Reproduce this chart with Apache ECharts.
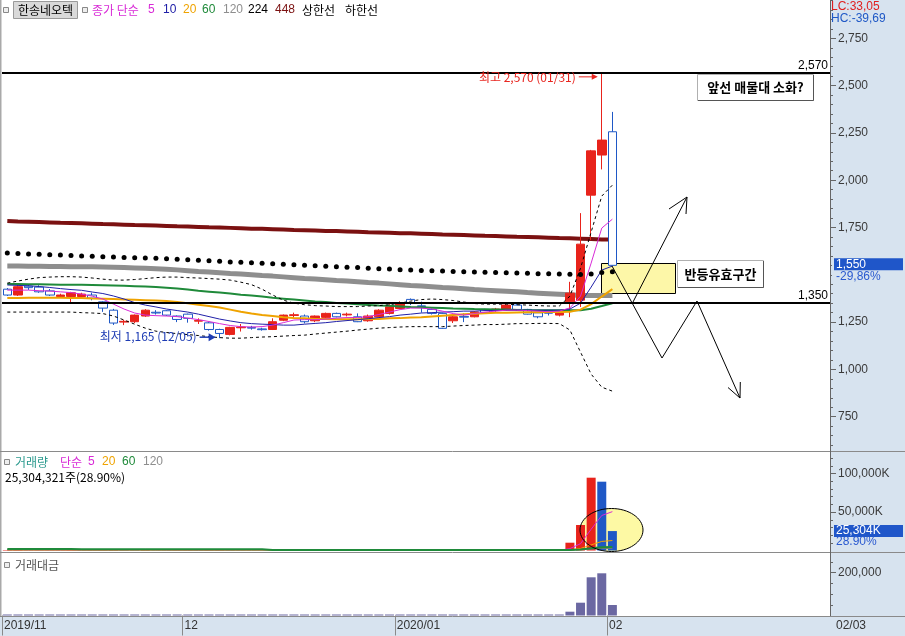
<!DOCTYPE html>
<html>
<head>
<meta charset="utf-8">
<script src="https://cdn.jsdelivr.net/npm/echarts@6.0.0/dist/echarts.min.js"></script>
<style>
html,body{margin:0;padding:0;background:#fff;}
#chart{width:905px;height:636px;background:
 linear-gradient(#d7e3ef,#d7e3ef) right top/75px 100% no-repeat,
 linear-gradient(#d7e3ef,#d7e3ef) left bottom/100% 20px no-repeat,#fff;}
</style>
</head>
<body>
<div id="chart"></div>
<script>
// ---------------- DATA ----------------
const dates = ['2019/11/07','2019/11/08','2019/11/11','2019/11/12','2019/11/13','2019/11/14','2019/11/15','2019/11/18','2019/11/19','2019/11/20','2019/11/21','2019/11/22','2019/11/25','2019/11/26','2019/11/27','2019/11/28','2019/11/29',
'2019/12/02','2019/12/03','2019/12/04','2019/12/05','2019/12/06','2019/12/09','2019/12/10','2019/12/11','2019/12/12','2019/12/13','2019/12/16','2019/12/17','2019/12/18','2019/12/19','2019/12/20','2019/12/23','2019/12/24','2019/12/26','2019/12/27','2019/12/30',
'2020/01/02','2020/01/03','2020/01/06','2020/01/07','2020/01/08','2020/01/09','2020/01/10','2020/01/13','2020/01/14','2020/01/15','2020/01/16','2020/01/17','2020/01/20','2020/01/21','2020/01/22','2020/01/23','2020/01/28','2020/01/29','2020/01/30','2020/01/31',
'2020/02/03'];
const futureDates = ['2020/02/04','2020/02/05','2020/02/06','2020/02/07','2020/02/10','2020/02/11','2020/02/12','2020/02/13','2020/02/14','2020/02/17','2020/02/18','2020/02/19','2020/02/20','2020/02/21','2020/02/24','2020/02/25','2020/02/26','2020/02/27','2020/02/28','2020/03/02'];

const opens  = [1424,1393,1440,1435,1415,1385,1385,1385,1393,1357, 1313,1250,1252,1282,1302,1310,1282,1292,1255,1246, 1211,1185,1220,1222,1214,1211,1260,1285,1282,1257, 1275,1296,1288,1278,1257,1278,1296,1322,1370,1336, 1317,1296,1257,1280,1278,1317,1315,1313,1340,1317, 1299,1300,1287,1357,1366,1921,2133,2256];
const closes = [1393,1437,1432,1410,1393,1393,1405,1398,1377,1324, 1245,1254,1287,1313,1298,1287,1264,1270,1259,1211, 1190,1222,1224,1218,1210,1252,1287,1289,1252,1282, 1296,1278,1292,1252,1282,1313,1331,1349,1349,1332, 1296,1217,1278,1276,1304,1300,1319,1340,1317,1292, 1278,1297,1299,1403,1662,2155,2212,1550];
const lows   = [1388,1388,1420,1405,1388,1380,1350,1375,1365,1304, 1235,1234,1245,1278,1290,1282,1250,1247,1240,1205, 1165,1180,1200,1210,1205,1208,1255,1275,1243,1250, 1270,1275,1280,1250,1252,1275,1290,1318,1340,1300, 1290,1215,1245,1250,1275,1296,1305,1310,1315,1290, 1270,1285,1280,1276,1330,1683,2057,1550];
const highs  = [1430,1451,1450,1445,1425,1400,1410,1405,1405,1360, 1320,1262,1290,1318,1313,1313,1285,1295,1270,1250, 1215,1225,1240,1230,1220,1270,1290,1300,1290,1285, 1300,1300,1300,1296,1290,1318,1345,1360,1375,1358, 1322,1300,1285,1296,1308,1320,1325,1345,1345,1320, 1302,1305,1305,1463,1826,2160,2570,2361];

const ma5   = [1419,1419,1419,1416,1414,1410,1406,1398,1387,1372, 1345,1319,1298,1287,1284,1282,1279,1271,1263,1253, 1242,1232,1226,1224,1226,1234,1247,1261,1263,1263, 1266,1271,1274,1274,1279,1290,1303,1316,1324,1324, 1319,1308,1295,1287,1295,1303,1308,1313,1313,1311, 1308,1305,1308,1325,1387,1562,1747,1794];
const ma10  = [1446,1444,1442,1438,1433,1427,1422,1418,1409,1401, 1388,1372,1353,1340,1330,1319,1311,1303,1292,1279, 1266,1256,1247,1242,1239,1237,1234,1234,1239,1243, 1247,1253,1258,1263,1268,1274,1279,1287,1292,1298, 1300,1303,1305,1308,1308,1311,1311,1313,1313,1313, 1313,1313,1313,1319,1350,1435,1525,1546];
const ma20  = [1377,1378,1379,1379,1379,1379,1378,1377,1375,1374, 1372,1370,1368,1366,1364,1361,1356,1350,1342,1335, 1327,1316,1305,1295,1287,1282,1276,1272,1270,1267, 1266,1265,1265,1265,1266,1267,1270,1271,1274,1276, 1280,1284,1288,1291,1294,1297,1299,1300,1301,1302, 1302,1303,1303,1305,1316,1345,1385,1424];
const ma60  = [1451,1451,1450,1450,1449,1448,1448,1447,1446,1445, 1444,1442,1440,1438,1435,1431,1427,1422,1416,1411, 1406,1401,1395,1390,1385,1379,1374,1369,1364,1359, 1356,1351,1348,1344,1341,1338,1336,1333,1330,1328, 1326,1324,1322,1321,1319,1318,1317,1316,1314,1313, 1313,1312,1312,1312,1313,1321,1335,1350];
const ma120 = [1546,1546,1545,1545,1544,1544,1543,1543,1542,1541, 1540,1538,1536,1534,1532,1529,1526,1522,1518,1515, 1511,1507,1504,1500,1496,1493,1489,1485,1481,1478, 1474,1470,1467,1463,1459,1456,1452,1448,1444,1441, 1437,1433,1430,1426,1422,1419,1416,1413,1410,1406, 1403,1400,1397,1394,1391,1390,1390,1391];
const ma224 = [1615,1613,1610,1608,1606,1604,1602,1600,1598,1596, 1594,1592,1590,1589,1587,1585,1582,1579,1577,1574, 1571,1568,1566,1564,1561,1558,1556,1553,1551,1548, 1545,1543,1540,1538,1535,1532,1530,1527,1525,1523, 1521,1520,1518,1516,1515,1513,1512,1511,1509,1508, 1506,1505,1504,1503,1502,1504,1512,1516];
const ma448 = [1784,1782,1781,1779,1777,1775,1774,1772,1770,1768, 1767,1765,1763,1762,1760,1758,1756,1755,1753,1751, 1750,1748,1746,1744,1743,1741,1739,1737,1736,1734, 1732,1731,1729,1727,1725,1724,1722,1720,1719,1717, 1715,1713,1712,1710,1708,1706,1705,1703,1701,1700, 1698,1696,1694,1693,1691,1689,1687,1686];
const upperBand = [1456,1467,1477,1485,1488,1490,1490,1488,1483,1477, 1472,1472,1475,1480,1485,1488,1488,1485,1483,1480, 1477,1472,1461,1448,1424,1393,1366,1350,1342,1337, 1335,1332,1332,1332,1335,1337,1342,1350,1361,1369, 1372,1369,1364,1356,1348,1345,1345,1345,1342,1340, 1337,1335,1335,1387,1535,1726,1916,1974];
const lowerBand = [1303,1303,1303,1303,1303,1303,1303,1300,1298,1295, 1282,1261,1239,1218,1202,1195,1189,1184,1179,1173, 1168,1165,1165,1168,1171,1173,1176,1179,1181,1187, 1192,1197,1202,1208,1213,1218,1221,1224,1226,1226, 1226,1226,1229,1232,1234,1237,1237,1239,1242,1242, 1243,1243,1242,1208,1091,975,906,885];

// volume in thousand shares
const volumes = [620,850,410,380,350,300,520,280,300,480, 1150,700,560,640,330,290,310,420,300,520, 610,540,380,260,240,580,520,360,420,330, 380,290,250,300,260,480,620,540,500,410, 330,760,450,300,380,290,260,420,310,280, 260,250,310,10150,33200,94800,89600,25304];
const volMa5   = [560,590,620,560,520,430,420,360,350,380, 550,580,680,710,680,490,410,390,330,370, 430,480,510,470,460,450,410,410,430,400, 400,360,330,310,300,310,370,440,480,510, 460,550,510,470,440,360,330,350,330,310, 300,300,300,2460,8900,27700,45600,50600];
const volMa20  = [520,530,530,520,520,510,510,500,500,500, 530,540,550,560,550,540,530,530,520,520, 510,500,490,480,470,470,470,460,460,450, 440,430,420,410,410,410,410,420,420,420, 410,430,430,420,420,410,410,400,400,390, 390,390,380,990,2630,7330,11790,13000];
const volMa60  = [1900,1890,1870,1860,1840,1820,1800,1790,1770,1750, 1740,1720,1700,1680,1660,1650,1630,1610,1590,1570, 1560,1540,1520,1510,1500,720,710,700,690,680, 680,670,660,650,640,640,630,620,610,600, 600,600,590,580,580,570,560,560,550,550, 540,530,520,690,1240,2820,4300,4700];
const volMa120 = [950,945,940,935,930,925,920,915,910,905, 900,900,895,890,885,880,875,870,865,860, 855,850,845,840,835,830,825,820,815,810, 805,800,795,790,785,780,775,770,765,760, 755,750,745,740,735,730,725,720,715,710, 705,700,695,780,1050,1830,2570,2770];
// trading value in million won
const amounts = [880,1220,590,540,490,420,730,390,420,650, 1470,880,710,830,430,370,390,530,380,640, 730,670,470,320,290,720,670,460,530,420, 490,370,320,380,330,630,820,720,680,550, 430,940,570,380,490,380,340,560,400,360, 330,320,400,17800,59800,178500,197200,49000];

const priceTicks  = [750,1000,1250,1500,1750,2000,2250,2500,2750];
const volTicks    = [50000,100000];
const amountTicks = [200000];
const levelLines  = [2570,1350];
const lastClose = 1550, lastChange = '-29,86%';
const lastVol = 25304, lastVolPct = '28.90%';

// ---------------- CHART ----------------
const NUM = "'Liberation Sans', Arial, sans-serif";
const KR = "'Noto Sans CJK KR', 'Noto Sans', sans-serif";
const RED = '#e8231b', BLUE = '#1f58c6', AXBG = '#d7e3ef';
const C5 = '#d82ad6', C10 = '#2020a8', C20 = '#efa300', C60 = '#1f8a3a', C120 = '#8e8e8e', C448 = '#7b1111';
const fmt = v => Math.round(v).toLocaleString('en-US');

const cats = dates.concat(futureDates);
const tickCats = cats.concat(['end']);
const candleData = dates.map((d, i) => [opens[i], closes[i], lows[i], highs[i]]);

function monthStart(i) {
  if (i >= dates.length) return false;
  return i === 0 || dates[i].slice(5, 7) !== dates[i - 1].slice(5, 7);
}
function monthLabel(v, i) {
  if (!monthStart(i)) return '';
  if (i === 0 || dates[i].slice(0, 4) !== dates[i - 1].slice(0, 4)) return dates[i].slice(0, 7);
  return dates[i].slice(5, 7);
}
function minorList(a, b, s) { const r = []; for (let v = a; v <= b; v += s) r.push(v); return r; }

const PMIN = 568.7, PMAX = 2952.4;
const VMAX = 128255, AMAX = 287383;

function lineS(data, color, width, z, xi, yi, extra) {
  return Object.assign({ type: 'line', data: data, xAxisIndex: xi || 0, yAxisIndex: yi || 0,
    symbol: 'none', silent: true, z: z, lineStyle: { color: color, width: width } }, extra || {});
}
function yAx(grid, min, max, ticks, len, labels, fmtFn) {
  return { type: 'value', gridIndex: grid, position: 'right', min: min, max: max,
    axisLine: { show: false }, splitLine: { show: false },
    axisTick: { show: true, customValues: ticks, length: len, lineStyle: { color: '#666' } },
    axisLabel: labels ? { show: true, customValues: ticks, formatter: fmtFn, margin: 8, color: '#3a3a3a', fontSize: 12, fontFamily: NUM } : { show: false } };
}

const option = {
  animation: false,
  grid: [
    { left: 2, width: 828, top: 0, height: 451 },
    { left: 2, width: 828, top: 452, height: 98.5 },
    { left: 2, width: 828, top: 554, height: 61.5 }
  ],
  xAxis: [
    { type: 'category', gridIndex: 0, data: cats, boundaryGap: true, show: false },
    { type: 'category', gridIndex: 1, data: cats, boundaryGap: true, show: false },
    { type: 'category', gridIndex: 2, data: cats, boundaryGap: true, show: false },
    { type: 'category', gridIndex: 2, data: tickCats, boundaryGap: false, position: 'bottom',
      axisLine: { show: false }, splitLine: { show: false },
      axisTick: { show: true, interval: (i) => monthStart(i), length: 20, lineStyle: { color: '#8a8a8a' } },
      axisLabel: { show: true, interval: (i) => monthStart(i), formatter: monthLabel, align: 'left', padding: [0, 0, 0, 2], margin: 4, color: '#333', fontSize: 12, fontFamily: NUM } }
  ],
  yAxis: [
    yAx(0, PMIN, PMAX, priceTicks, 6, true, v => fmt(v)),
    yAx(0, PMIN, PMAX, minorList(600, 2950, 50), 3, false),
    yAx(1, 0, VMAX, volTicks, 6, true, v => fmt(v) + 'K'),
    yAx(1, 0, VMAX, minorList(10000, 120000, 10000), 3, false),
    yAx(2, 0, AMAX, amountTicks, 6, true, v => fmt(v)),
    yAx(2, 0, AMAX, minorList(50000, 250000, 50000), 3, false)
  ],
  series: [
    { type: 'candlestick', data: candleData, xAxisIndex: 0, yAxisIndex: 0, barWidth: 9, z: 3, silent: true,
      itemStyle: { color: RED, color0: '#ffffff', borderColor: RED, borderColor0: BLUE, borderWidth: 1 },
      markLine: { silent: true, symbol: ['none', 'none'], animation: false,
        lineStyle: { color: '#000', width: 2, type: 'solid' },
        label: { show: true, position: 'insideEndTop', formatter: p => fmt(p.value), color: '#000', fontSize: 12, fontFamily: NUM, distance: [2, 1] },
        emphasis: { disabled: true },
        data: levelLines.map(v => ({ yAxis: v })) } },
    lineS(ma448, C448, 4, 2),
    lineS(ma224, '#000', 0, 4, 0, 0, { symbol: 'circle', symbolSize: 5, showSymbol: true, showAllSymbol: true,
      lineStyle: { opacity: 0, width: 0 }, itemStyle: { color: '#000', borderWidth: 0 } }),
    lineS(ma120, C120, 5, 2),
    lineS(ma60, C60, 2, 4),
    lineS(upperBand, '#000', 1, 4, 0, 0, { lineStyle: { color: '#000', width: 1, type: [3, 3] } }),
    lineS(lowerBand, '#000', 1, 4, 0, 0, { lineStyle: { color: '#000', width: 1, type: [3, 3] } }),
    lineS(ma20, C20, 2, 4),
    lineS(ma10, C10, 1, 4),
    lineS(ma5, C5, 1, 4),
    { type: 'bar', data: volumes, xAxisIndex: 1, yAxisIndex: 2, barWidth: 9, z: 3, silent: true,
      itemStyle: { color: p => (p.dataIndex === 0 || volumes[p.dataIndex] > volumes[p.dataIndex - 1]) ? RED : BLUE } },
    lineS(volMa5, C5, 1, 4, 1, 2),
    lineS(volMa20, C20, 1, 4, 1, 2),
    lineS(volMa120, '#7a7a7a', 1, 5, 1, 2),
    lineS(volMa60, C60, 2, 6, 1, 2),
    { type: 'bar', data: amounts, xAxisIndex: 2, yAxisIndex: 4, barWidth: 9, barMinHeight: 1, z: 3, silent: true,
      itemStyle: { color: '#6b68a2' } }
  ]
};

const chart = echarts.init(document.getElementById('chart'));
chart.setOption(option);

// ---------------- OVERLAYS ----------------
function T(text, x, y, fill, font, align, z) {
  return { type: 'text', x: x, y: y, z: z || 60, silent: true,
    style: { text: text, fill: fill, font: font, align: align || 'left', textAlign: align || 'left', verticalAlign: 'middle', textVerticalAlign: 'middle' } };
}
function L(x1, y1, x2, y2, stroke, w, z) {
  return { type: 'line', z: z || 60, silent: true, shape: { x1: x1, y1: y1, x2: x2, y2: y2 }, style: { stroke: stroke, lineWidth: w || 1 } };
}
function R(x, y, w, h, fill, stroke, z) {
  return { type: 'rect', z: z || 60, silent: true, shape: { x: x, y: y, width: w, height: h }, style: { fill: fill, stroke: stroke || null, lineWidth: 1 } };
}
function PL(points, stroke, z) {
  return { type: 'polyline', z: z || 60, silent: true, shape: { points: points }, style: { stroke: stroke, fill: null, lineWidth: 1 } };
}
function PG(points, fill, z) {
  return { type: 'polygon', z: z || 60, silent: true, shape: { points: points }, style: { fill: fill } };
}
const F12 = '12px ' + KR, N12 = '12px ' + NUM;
const g = [];

// frame lines
g.push(R(0, 0, 1.5, 616, '#a9a9a9', null, 50));
g.push(L(0, 451.5, 905, 451.5, '#8a8a8a', 1, 50));
g.push(L(0, 552.5, 905, 552.5, '#8a8a8a', 1, 50));
g.push(L(0, 616.5, 905, 616.5, '#8a8a8a', 1, 50));
g.push(L(830.5, 0, 830.5, 616, '#666', 1, 50));

// top legend
g.push(R(3.5, 7.5, 5, 5, '#eee', '#888'));
g.push(R(13.5, 1.5, 64, 17, '#d9d9d9', '#9a9a9a'));
g.push(T('한송네오텍', 45.5, 10, '#000', F12, 'center'));
g.push(R(82.5, 7.5, 5, 5, '#eee', '#888'));
[['종가 단순', C5, 92, F12], ['5', C5, 148, N12], ['10', C10, 163, N12], ['20', C20, 183, N12], ['60', C60, 202, N12],
 ['120', C120, 223, N12], ['224', '#000', 248, N12], ['448', C448, 275, N12], ['상한선', '#000', 302, F12], ['하한선', '#000', 345, F12]]
 .forEach(a => g.push(T(a[0], a[2], 10, a[1], a[3])));

// volume legend
g.push(R(4.5, 459.5, 5, 5, '#eee', '#888'));
[['거래량', '#2b9a8e', 15, F12], ['단순', C5, 60, F12], ['5', C5, 88, N12], ['20', C20, 102, N12], ['60', C60, 122, N12], ['120', C120, 143, N12]]
 .forEach(a => g.push(T(a[0], a[2], 462, a[1], a[3])));
g.push(T('25,304,321주(28.90%)', 5, 477, '#000', F12));
// amount legend
g.push(R(4.5, 562.5, 5, 5, '#eee', '#888'));
g.push(T('거래대금', 15, 565, '#555', F12));

// right-top info
g.push(T('LC:33,05', 831, 7, '#e02020', N12));
g.push(T('HC:-39,69', 831, 19, '#1f58c6', N12));
g.push(T('02/03', 836, 626, '#333', N12));

// last price marker
const pc = chart.convertToPixel({ seriesIndex: 0 }, [dates.length - 1, lastClose]);
g.push(R(832, pc[1] - 7, 73, 25, AXBG, null, 58));
g.push(R(834, pc[1] - 7, 69, 12, '#1f56c9', null));
g.push(T(fmt(lastClose), 836, pc[1] - 1, '#fff', N12));
g.push(T(lastChange, 836, pc[1] + 11, '#2a5ad0', N12));
// last volume marker
const pv = chart.convertToPixel({ seriesIndex: 10 }, [dates.length - 1, lastVol]);
g.push(R(834, pv[1] - 6, 69, 12, '#1f56c9', null));
g.push(T(fmt(lastVol) + 'K', 836, pv[1], '#fff', N12));
g.push(T(lastVolPct, 836, pv[1] + 11, '#2a5ad0', N12));

// high / low annotations
let hiIdx = 0, loIdx = 0;
highs.forEach((v, i) => { if (v > highs[hiIdx]) hiIdx = i; });
lows.forEach((v, i) => { if (v < lows[loIdx]) loIdx = i; });
const ph = chart.convertToPixel({ seriesIndex: 0 }, [hiIdx, highs[hiIdx]]);
g.push(T('최고 ' + fmt(highs[hiIdx]) + ' (01/31)', ph[0] - 26, ph[1] + 5, '#e8251f', F12, 'right'));
g.push(L(ph[0] - 23, ph[1] + 4.5, ph[0] - 8, ph[1] + 4.5, '#e8251f', 1));
g.push(PG([[ph[0] - 4, ph[1] + 4.5], [ph[0] - 10, ph[1] + 1.5], [ph[0] - 10, ph[1] + 7.5]], '#e8251f'));
const pl = chart.convertToPixel({ seriesIndex: 0 }, [loIdx, lows[loIdx]]);
g.push(T('최저 ' + fmt(lows[loIdx]) + ' (12/05)', pl[0] - 23, pl[1] - 2, '#1e3cb4', F12, 'right'));
g.push(L(pl[0] - 20, pl[1] - 1, pl[0] - 10, pl[1] - 1, '#1e3cb4', 1.5));
g.push(PG([[pl[0] - 4, pl[1] - 1], [pl[0] - 11, pl[1] - 5], [pl[0] - 11, pl[1] + 3]], '#1e3cb4'));

// drawings
g.push(R(601.5, 263.5, 74, 30, '#fdf7a8', '#000', 1));
g.push(R(697.5, 74.5, 116, 26, '#fff', '#b0b0b0', 61));
g.push(PL([[698, 100.5], [813.5, 100.5], [813.5, 75]], '#555', 62));
g.push(T('앞선 매물대 소화?', 755.5, 87.5, '#000', 'bold 13px ' + KR, 'center', 63));
g.push(R(677.5, 260.5, 86, 27, '#fff', '#b0b0b0', 61));
g.push(PL([[678, 287.5], [763.5, 287.5], [763.5, 261]], '#555', 62));
g.push(T('반등유효구간', 720.5, 274, '#000', 'bold 13px ' + KR, 'center', 63));
// scenario arrows
g.push(PL([[612, 266], [662, 358], [697, 301], [740, 398]], '#000'));
g.push(PL([[728, 387.5], [740, 398], [740.3, 382]], '#000'));
g.push(L(633, 302, 687, 197, '#000', 1));
g.push(PL([[669, 209], [687, 197], [686, 214]], '#000'));
// volume ellipse
g.push({ type: 'ellipse', z: 1, silent: true, shape: { cx: 611.5, cy: 530, rx: 31.5, ry: 21.5 }, style: { fill: '#fdf9a4' } });
g.push({ type: 'ellipse', z: 60, silent: true, shape: { cx: 611.5, cy: 530, rx: 31.5, ry: 21.5 }, style: { fill: null, stroke: '#000', lineWidth: 1 } });

chart.setOption({ graphic: { elements: g } });
</script>
</body>
</html>
